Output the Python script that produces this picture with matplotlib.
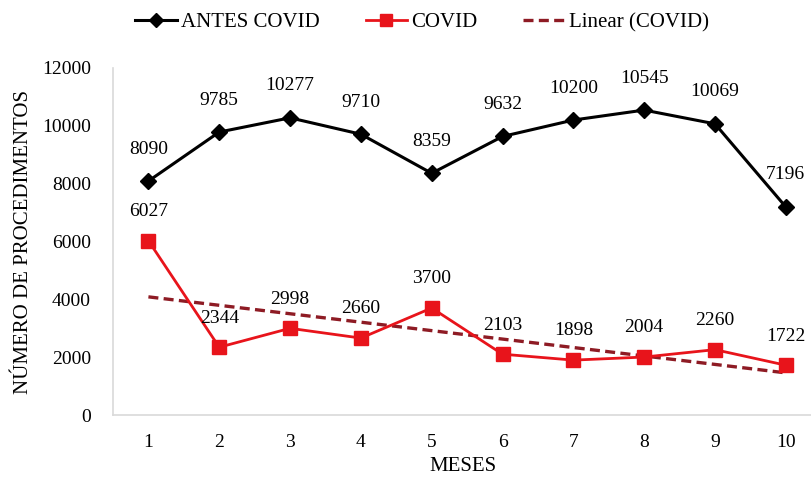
import numpy as np
import matplotlib
matplotlib.use("Agg")
import matplotlib.pyplot as plt
from matplotlib.lines import Line2D

plt.rcParams['font.family'] = ['Liberation Serif', 'DejaVu Serif']

meses = [1, 2, 3, 4, 5, 6, 7, 8, 9, 10]
antes_covid = [8090, 9785, 10277, 9710, 8359, 9632, 10200, 10545, 10069, 7196]
covid = [6027, 2344, 2998, 2660, 3700, 2103, 1898, 2004, 2260, 1722]

black = '#000000'
red = '#E8141B'
trend_col = '#8E1B24'

fig = plt.figure(figsize=(8.12, 4.79), dpi=100)
ax = fig.add_axes([113 / 812, 64 / 479, 1 - 113 / 812, (415 - 68) / 479])

ax.plot(meses, antes_covid, color=black, lw=2.2, marker='D', ms=8, zorder=3)
ax.plot(meses, covid, color=red, lw=2.0, marker='s', ms=10, zorder=3)

# linear trend of the COVID series
slope, inter = np.polyfit(meses, covid, 1)
xs = np.array([meses[0], meses[-1]])
ax.plot(xs, slope * xs + inter, color=trend_col, lw=2.4, ls=(0, (3, 1.6)), zorder=2)

for x, y in zip(meses, antes_covid):
    ax.annotate(str(y), (x, y), xytext=(0, 23), textcoords='offset points',
                ha='center', va='center', fontsize=14)
for x, y in zip(meses, covid):
    ax.annotate(str(y), (x, y), xytext=(0, 21), textcoords='offset points',
                ha='center', va='center', fontsize=14)

ax.set_xlim(0.5, 10.37)
ax.set_ylim(0, 12000)
ax.set_xticks(meses)
ax.set_yticks(range(0, 12001, 2000))
ax.tick_params(length=0, labelsize=14)
ax.tick_params(axis='y', pad=16)
ax.tick_params(axis='x', pad=14)
for s in ['top', 'right']:
    ax.spines[s].set_visible(False)
for s in ['left', 'bottom']:
    ax.spines[s].set_color('#D9D9D9')
    ax.spines[s].set_linewidth(1.2)

ax.set_xlabel('MESES', fontsize=15, labelpad=4)
ax.set_ylabel('NÚMERO DE PROCEDIMENTOS', fontsize=15, labelpad=6)

handles = [
    Line2D([], [], color=black, lw=2.2, marker='D', ms=7),
    Line2D([], [], color=red, lw=2.0, marker='s', ms=9),
    Line2D([], [], color=trend_col, lw=2.4, ls=(0, (3, 1.6))),
]
fig.legend(handles, ['ANTES COVID', 'COVID', 'Linear (COVID)'], loc='center',
           bbox_to_anchor=(0.52, 0.953), ncol=3, frameon=False, fontsize=15,
           handlelength=2.0, handletextpad=0.2, columnspacing=2.2)

fig.savefig('out.png', dpi=100)
